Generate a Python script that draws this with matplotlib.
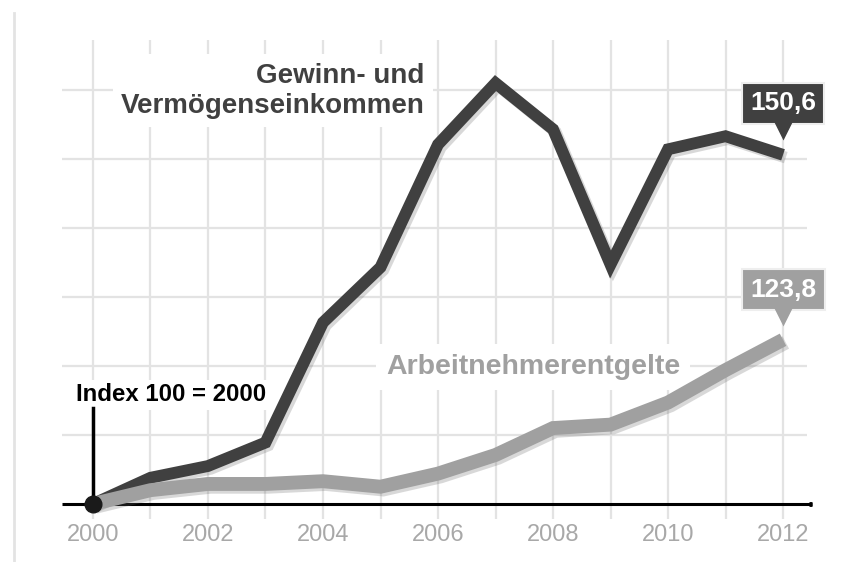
import numpy as np
import matplotlib.pyplot as plt
import matplotlib.patheffects as pe
from matplotlib.transforms import offset_copy

years = list(range(2000, 2013))
gewinn = [100.0, 103.8, 105.5, 108.9, 126.3, 134.3, 152.1, 161.0, 154.3, 134.7, 151.4, 153.3, 150.6]
arbeit = [100.0, 102.0, 102.9, 102.9, 103.3, 102.5, 104.4, 107.1, 111.0, 111.5, 114.7, 119.4, 123.8]
grid_y = [110, 120, 130, 140, 150, 160]
tick_years = [2000, 2002, 2004, 2006, 2008, 2010, 2012]

dark = '#404040'
light = '#a0a0a0'
gridc = '#e3e3e3'

fig = plt.figure(figsize=(8.43, 5.62), dpi=100)
ax = fig.add_axes([0, 0, 1, 1])
ax.set_xlim(1998.383, 2013.043)
ax.set_ylim(91.59, 173.04)
ax.axis('off')

# grid
ax.vlines(years, 97.8, 167.2, color=gridc, lw=1.6, zorder=1)
ax.hlines(grid_y, 1999.46, 2012.42, color=gridc, lw=1.6, zorder=1)
ax.plot([1998.63, 1998.63], [91.59, 171.2], color=gridc, lw=2, zorder=1)
ax.plot([1999.46, 2012.5], [100, 100], color='black', lw=2.2, zorder=2, solid_capstyle='butt')
ax.plot([2012.45, 2012.5], [100, 100], color='black', lw=3.5, zorder=2, solid_capstyle='butt')

shadow = [pe.SimpleLineShadow(offset=(2, -2), shadow_color='#666666', alpha=0.25),
          pe.Normal()]
ax.plot(years, gewinn, color=dark, lw=8.5, solid_joinstyle='miter',
        solid_capstyle='butt', zorder=4, path_effects=shadow)
ax.plot(years, arbeit, color=light, lw=10, solid_joinstyle='miter',
        solid_capstyle='butt', zorder=5, path_effects=shadow)

# index marker
ax.plot([2000, 2000], [100, 113.9], color='black', lw=2.5, zorder=6)
ax.plot([2000], [100], 'o', color='#1a1a1a', ms=12, zorder=7)

for t in tick_years:
    ax.text(t, 95.5, str(t), ha='center', va='center', fontsize=17,
            color='#a8a8a8', family='Liberation Sans')

# series labels
ax.text(2005.77, 159.9, 'Gewinn- und\nVermögenseinkommen', ha='right', va='center',
        fontsize=20, fontweight='bold', color=dark, family='Liberation Sans',
        linespacing=1.2, zorder=3,
        bbox=dict(boxstyle='square,pad=0.3', fc='white', ec='none'))
ax.text(2010.21, 119.8, 'Arbeitnehmerentgelte', ha='right', va='center',
        fontsize=20.5, fontweight='bold', color=light, family='Liberation Sans',
        zorder=3, bbox=dict(boxstyle='square,pad=0.35', fc='white', ec='none'))
ax.text(1999.70, 115.8, 'Index 100 = 2000', ha='left', va='center',
        fontsize=17.3, fontweight='bold', color='black', family='Liberation Sans',
        zorder=3, bbox=dict(boxstyle='square,pad=0.15', fc='white', ec='none'))

# end value boxes
for vals, col, dy in [(gewinn, dark, 37), (arbeit, light, 36)]:
    x, y = years[-1], vals[-1]
    tr = offset_copy(ax.transData, fig=fig, x=0, y=dy, units='points')
    ax.text(x, y, f'{y:.1f}'.replace('.', ','), transform=tr, ha='center',
            va='center', fontsize=19, fontweight='bold', color='white',
            family='Liberation Sans', zorder=9,
            bbox=dict(boxstyle='square,pad=0.32', fc=col, ec='#eeeeee', lw=1.5))
    tr2 = offset_copy(ax.transData, fig=fig, x=0, y=dy - 19, units='points')
    ax.plot([x], [y], marker='v', ms=15, color=col, mec='none',
            transform=tr2, zorder=9)

fig.savefig('out.png', dpi=100)
